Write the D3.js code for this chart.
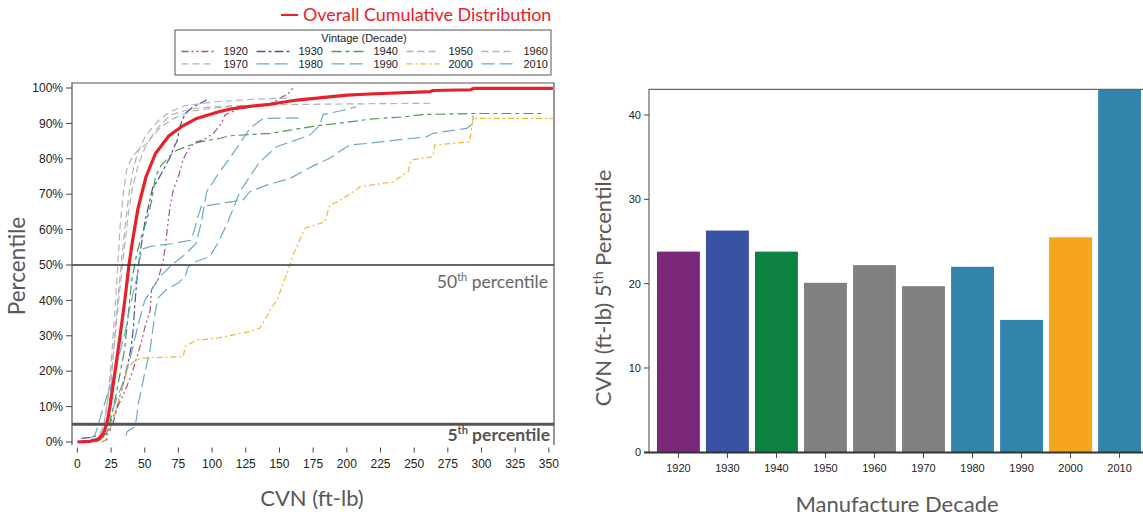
<!DOCTYPE html>
<html><head><meta charset="utf-8">
<script src="https://cdn.jsdelivr.net/npm/d3@7"></script>
<style>body{margin:0;background:#fff}svg{display:block}</style>
</head><body><svg id="c" width="1143" height="518"></svg>
<script>
// ---------- DATA ----------
const cvnTicks = [0,25,50,75,100,125,150,175,200,225,250,275,300,325,350];
const pctTicks = [0,10,20,30,40,50,60,70,80,90,100];
const legendDecades = ["1920","1930","1940","1950","1960","1970","1980","1990","2000","2010"];
const decades = ["1920","1930","1940","1950","1960","1970","1980","1990","2000","2010"];
const p5Values = [23.8,26.3,23.8,20.1,22.2,19.7,22.0,15.7,25.5,43.0];
const barTicks = [0,10,20,30,40];

// cumulative distributions: [CVN ft-lb, percentile %]
const cdfOverall = [[0,0],[5,0.1],[9.4,0.2],[15.6,0.8],[19.3,2.4],[21.8,5.1],[24.2,10],[28,20],[31.7,30],[35.2,40],[38.3,50],[41,57],[45,66],[51,75],[58,81.5],[68,86.5],[77,89],[88.5,91.4],[105,93.3],[113,94],[123,94.6],[143,95.4],[163,96.6],[200,98],[217,98.3],[262,99],[264,99.3],[292,99.5],[294,99.9],[353,99.9]];
const cdf1920 = [[18,0],[21.8,0.6],[23.8,5],[29.2,9.4],[33,12.5],[36.6,15.6],[41,20],[45,25],[48,29],[50.2,32.6],[54,37],[55,43],[60,46],[63.8,51.4],[65.5,56],[67.5,62.7],[69,67],[71.2,71.2],[75,75],[78.6,80],[83.6,83.4],[88.5,84.8],[93.4,85.3],[101,87.2],[107,90],[109.5,92.4],[118,93.8],[130,94.8],[143,95.5],[148,96.5],[152,97.5],[156,98.2],[160,100]];
const cdf1930 = [[3,1],[10,1.3],[15,1.8],[20,2],[23,2.5],[26.3,5],[28,7.5],[31,12],[35,18],[38,23],[40,27],[41.5,32],[42.5,38],[44,45],[46,52],[48,57],[50,62],[53,67],[56,72],[59,73.5],[64,77],[69,80.6],[72,83.5],[74,85],[76,89],[80,92.8],[86,94.7],[92,95.8],[96,96.6]];
const cdf1940 = [[14,0],[17,0.6],[21,2],[23.8,5],[28,12],[32,20],[35,26],[38,37],[40.5,46],[44,53],[47.5,58],[51.5,62.7],[55,68],[58,75],[62,78],[68,80.6],[74,82.5],[84,83.9],[91,84.8],[106,85.8],[113,86.5],[143,87.2],[150,87.6],[177,89.3],[200,90.3],[217,91.2],[244,91.9],[256,92.5],[293,92.8],[345,92.8]];
const cdf1950 = [[10,0],[15,0.5],[18,2.5],[20.1,5],[22.5,12],[25,22],[28,38],[30,50],[31.7,61],[34,70],[36.6,77],[40,80],[44,82],[52,84.5],[58,88],[64,90.5],[70,92.5],[85,94.2],[110,94.9],[150,95.3],[200,95.5],[265,95.7]];
const cdf1960 = [[12,0],[17,1],[20,2.5],[22.2,5],[24,12],[27,26],[30,40],[33,52],[36,63],[39,72],[42,78],[45,82],[50,86],[56,89],[62,91.5],[70,93.5],[80,95],[100,96],[130,96.8],[158,97.2]];
const cdf1970 = [[12,0],[16,1.5],[19.7,5],[23,13],[26,22],[29,34],[32,45],[35,55],[38,65],[41,72],[45,78],[50,83],[55,86],[62,89],[72,91.5],[85,93.5],[105,94.5],[135,95.3]];
const cdf1980 = [[15,0],[20,2.5],[22,5],[26,9],[30,13],[35,18],[40,25],[45,33],[50,40],[55,43],[62,47],[70,50],[80,53],[88,56],[92,62],[96,70.7],[105,76],[113,80.1],[120,84],[128,88.6],[138,91.4],[168,91.6]];
const cdf1990 = [[10,1],[13,2],[15.7,5],[17,7],[19.5,10],[22,13],[25,16],[28,20],[32,26],[36,32],[39,38],[42,43],[44.5,47],[46,51],[48,54.5],[55,55.3],[70,56],[84,57],[87,60],[89,63],[92,66.5],[100,67],[115,67.9],[123,68.4],[128,70.7],[140,72.5],[158,74.5],[175,78],[187,80.1],[202,83.9],[217,84.4],[225,84.8],[259,86.2],[264,87.2],[289,88.6],[293.7,90],[293.7,92.3]];
const cdf2000 = [[18,0],[20.5,0.5],[25.5,5],[31.7,13],[37.8,21.3],[43.6,23.2],[47.8,23.7],[78.6,24.1],[80,27],[88.5,28.8],[103.4,29.3],[128,31.2],[135.5,32.2],[140.5,35.4],[143,37.3],[148,40],[152,44],[155,47],[157.7,50],[160,52.8],[165,57],[169,60.4],[183.7,62.2],[187.4,67],[193.6,67.9],[204.7,70.7],[209.7,72.1],[234.4,73.5],[245.5,76.4],[248,79.7],[264,80.6],[265.3,83.9],[291.2,84.8],[293.7,91.4],[353,91.4]];
const cdf2010 = [[36,1.8],[37,3],[42.8,4.3],[44,7],[45.2,10.8],[50,19.5],[54,26],[57.6,36.4],[60,40.7],[66,43],[75,45],[80,46.7],[82.3,49.5],[88,51],[98,52.3],[104,56],[110.8,61.3],[120.7,70.7],[128,75],[135.5,79.2],[147.9,83.4],[160,85],[172.6,86.7],[180,89.5],[182.4,92.5],[195,93.5],[207,94.7]];

// ---------- STYLE ----------
const styleOf = {
  "1920":{c:"#a5509f",d:"7,3,2,3,2,3"},
  "1930":{c:"#4b4fb3",d:"9,3,3,3"},
  "1940":{c:"#44a044",d:"10,4,4,4"},
  "1950":{c:"#b3b3b3",d:"7,4"},
  "1960":{c:"#b3b3b3",d:"7,4"},
  "1970":{c:"#b3b3b3",d:"7,4"},
  "1980":{c:"#6aa9cc",d:"13,5"},
  "1990":{c:"#6aa9cc",d:"13,5"},
  "2000":{c:"#f5b733",d:"6,3,2,3"},
  "2010":{c:"#6aa9cc",d:"13,5"}
};
const cdfByDecade = {"1920":cdf1920,"1930":cdf1930,"1940":cdf1940,"1950":cdf1950,"1960":cdf1960,"1970":cdf1970,"1980":cdf1980,"1990":cdf1990,"2000":cdf2000,"2010":cdf2010};
const barColor = {"1920":"#7b287b","1930":"#3852a4","1940":"#0d8140","1950":"#808080","1960":"#808080","1970":"#808080","1980":"#3384ab","1990":"#3384ab","2000":"#f6a51f","2010":"#3384ab"};

const svg = d3.select("#c");
const sans = "'Liberation Sans', Arial, sans-serif";
const cal = "Lato, 'Open Sans', sans-serif";
const titleGray = "#595959";

// ---------- LEFT CHART ----------
const L = {l:72, t:83, r:554, b:445};
const x = d3.scaleLinear().domain([-4, 353.8]).range([L.l, L.r]);
const y = d3.scaleLinear().domain([0, 100]).range([442, 88]);

svg.append("defs").append("clipPath").attr("id","clipL")
  .append("rect").attr("x",L.l).attr("y",L.t).attr("width",L.r-L.l).attr("height",L.b-L.t);

const line = d3.line().x(d=>x(d[0])).y(d=>y(d[1]));
const gCurves = svg.append("g").attr("clip-path","url(#clipL)");
decades.forEach(dec=>{
  gCurves.append("path").datum(cdfByDecade[dec])
    .attr("d",line).attr("fill","none")
    .attr("stroke",styleOf[dec].c).attr("stroke-width",1.2)
    .attr("stroke-dasharray",styleOf[dec].d);
});
gCurves.append("path").datum(cdfOverall).attr("d",line).attr("fill","none")
  .attr("stroke","#e8202a").attr("stroke-width",3.2).attr("stroke-linejoin","round");

// reference lines
svg.append("line").attr("x1",L.l).attr("x2",L.r).attr("y1",y(50)).attr("y2",y(50))
  .attr("stroke","#333").attr("stroke-width",1.6);
svg.append("line").attr("x1",L.l).attr("x2",L.r).attr("y1",y(5)).attr("y2",y(5))
  .attr("stroke","#555").attr("stroke-width",3);

// frame
svg.append("path").attr("d",`M${L.l},${L.b}V${L.t}H${L.r}V${L.b}`)
  .attr("fill","none").attr("stroke","#555").attr("stroke-width",1.2);

// y axis
const gy = svg.append("g");
pctTicks.forEach(t=>{
  gy.append("line").attr("x1",L.l-6).attr("x2",L.l).attr("y1",y(t)).attr("y2",y(t)).attr("stroke","#444");
  gy.append("text").attr("x",L.l-9).attr("y",y(t)).attr("dy","0.35em")
    .attr("text-anchor","end").attr("font-family",sans).attr("font-size",12).attr("fill","#222").text(t+"%");
});
// x axis
const gx = svg.append("g");
cvnTicks.forEach(t=>{
  gx.append("line").attr("x1",x(t)).attr("x2",x(t)).attr("y1",447.5).attr("y2",452.5).attr("stroke","#444");
  gx.append("text").attr("x",x(t)).attr("y",468).attr("text-anchor","middle")
    .attr("font-family",sans).attr("font-size",12).attr("fill","#222").text(t);
});

// labels
const t50 = svg.append("text").attr("x",548).attr("y",288).attr("text-anchor","end")
  .attr("font-family",cal).attr("font-size",17.5).attr("fill","#666");
t50.append("tspan").text("50");
t50.append("tspan").attr("font-size",11).attr("dy",-7).text("th");
t50.append("tspan").attr("dy",7).text(" percentile");
const t5 = svg.append("text").attr("x",550).attr("y",441).attr("text-anchor","end")
  .attr("font-family",cal).attr("font-size",17.5).attr("font-weight","bold").attr("fill","#555");
t5.append("tspan").text("5");
t5.append("tspan").attr("font-size",11).attr("dy",-7).text("th");
t5.append("tspan").attr("dy",7).text(" percentile");

svg.append("text").attr("transform","translate(25,266) rotate(-90)").attr("text-anchor","middle")
  .attr("font-family",cal).attr("font-size",22.5).attr("fill",titleGray).text("Percentile");
svg.append("text").attr("x",312).attr("y",506).attr("text-anchor","middle")
  .attr("font-family",cal).attr("font-size",22).attr("fill",titleGray).text("CVN (ft-lb)");

// overall legend title
svg.append("line").attr("x1",281).attr("x2",298).attr("y1",15).attr("y2",15).attr("stroke","#ee2026").attr("stroke-width",2);
svg.append("text").attr("x",303).attr("y",21).attr("font-family",cal).attr("font-size",17.9)
  .attr("fill","#ee2026").text("Overall Cumulative Distribution");

// legend box
svg.append("rect").attr("x",175).attr("y",30).attr("width",376).attr("height",45)
  .attr("fill","#fff").attr("stroke","#555").attr("stroke-width",1);
svg.append("text").attr("x",364).attr("y",42).attr("text-anchor","middle")
  .attr("font-family",sans).attr("font-size",11).attr("fill","#222").text("Vintage (Decade)");
legendDecades.forEach((dec,i)=>{
  const col = i%5, row = Math.floor(i/5);
  const lx = 181.5 + col*75, ly = 51.5 + row*12.3;
  svg.append("line").attr("x1",lx).attr("x2",lx+33).attr("y1",ly).attr("y2",ly)
    .attr("stroke",styleOf[dec].c).attr("stroke-width",1.3).attr("stroke-dasharray",styleOf[dec].d);
  svg.append("text").attr("x",lx+42).attr("y",ly).attr("dy","0.36em")
    .attr("font-family",sans).attr("font-size",11).attr("fill","#222").text(dec);
});

// ---------- RIGHT CHART ----------
const xb = d3.scaleBand().domain(decades).range([649,1149]).paddingInner(0.125).paddingOuter(0.163);
const yb = d3.scaleLinear().domain([0,43.05]).range([452.3,89.3]);

svg.append("g").selectAll("rect").data(decades).join("rect")
  .attr("x",d=>xb(d)).attr("width",xb.bandwidth())
  .attr("y",(d,i)=>yb(p5Values[i])).attr("height",(d,i)=>yb(0)-yb(p5Values[i]))
  .attr("fill",d=>barColor[d]);

svg.append("path").attr("d",`M649,452V89.3H1149`).attr("fill","none").attr("stroke","#666").attr("stroke-width",1.2);
svg.append("line").attr("x1",644).attr("x2",1149).attr("y1",452.5).attr("y2",452.5).attr("stroke","#333").attr("stroke-width",2);

barTicks.forEach(t=>{
  svg.append("line").attr("x1",644).attr("x2",649).attr("y1",yb(t)).attr("y2",yb(t)).attr("stroke","#444");
  svg.append("text").attr("x",641).attr("y",yb(t)).attr("dy","0.35em").attr("text-anchor","end")
    .attr("font-family",sans).attr("font-size",11).attr("fill","#222").text(t);
});
decades.forEach(d=>{
  const cx = xb(d)+xb.bandwidth()/2;
  svg.append("line").attr("x1",cx).attr("x2",cx).attr("y1",453).attr("y2",458).attr("stroke","#444");
  svg.append("text").attr("x",cx).attr("y",472).attr("text-anchor","middle")
    .attr("font-family",sans).attr("font-size",11).attr("fill","#222").text(d);
});

const ty = svg.append("text").attr("transform","translate(611,288) rotate(-90)").attr("text-anchor","middle")
  .attr("font-family",cal).attr("font-size",22).attr("fill",titleGray);
ty.append("tspan").text("CVN (ft-lb) 5");
ty.append("tspan").attr("font-size",14).attr("dy",-8).text("th");
ty.append("tspan").attr("dy",8).text(" Percentile");
svg.append("text").attr("x",897).attr("y",512).attr("text-anchor","middle")
  .attr("font-family",cal).attr("font-size",22).attr("fill",titleGray).text("Manufacture Decade");
</script></body></html>
